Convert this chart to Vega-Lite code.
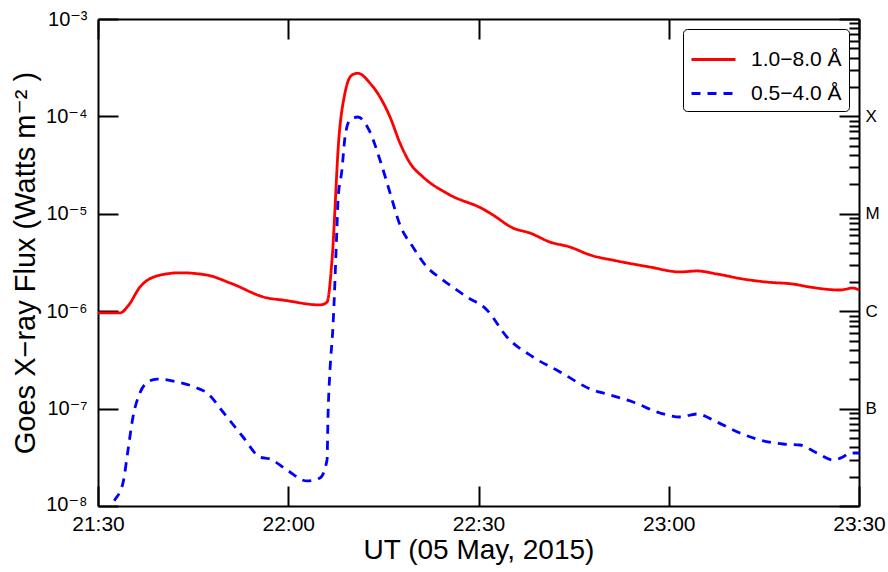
{
  "$schema": "https://vega.github.io/schema/vega-lite/v6.json",
  "autosize": "none",
  "width": 761,
  "height": 487,
  "padding": {"left": 98, "top": 19, "right": 29, "bottom": 66},
  "background": "white",
  "config": {
    "font": "Liberation Sans, DejaVu Sans",
    "view": {"stroke": null},
    "axis": {"grid": false, "domainColor": "black", "domainWidth": 2, "tickColor": "black", "tickWidth": 2, "labelColor": "black", "titleColor": "black", "titleFontWeight": "normal", "labelFlush": false, "labelOverlap": false, "labelBound": false},
    "legend": {"labelFontSize": 21, "labelColor": "black", "symbolSize": 1936, "symbolStrokeWidth": 2.8, "symbolType": "stroke", "labelOffset": 14, "rowPadding": -14, "padding": 7, "strokeColor": "black", "fillColor": "white", "cornerRadius": 4}
  },
  "data": {"values": [
    {"band": "1.0−8.0 Å", "t": "2015-05-05T21:30:00", "flux": 9.6e-7},
    {"band": "1.0−8.0 Å", "t": "2015-05-05T21:33:28", "flux": 9.6e-7},
    {"band": "1.0−8.0 Å", "t": "2015-05-05T21:34:44", "flux": 1.13e-6},
    {"band": "1.0−8.0 Å", "t": "2015-05-05T21:36:37", "flux": 1.77e-6},
    {"band": "1.0−8.0 Å", "t": "2015-05-05T21:39:18", "flux": 2.30e-6},
    {"band": "1.0−8.0 Å", "t": "2015-05-05T21:42:56", "flux": 2.48e-6},
    {"band": "1.0−8.0 Å", "t": "2015-05-05T21:47:11", "flux": 2.35e-6},
    {"band": "1.0−8.0 Å", "t": "2015-05-05T21:50:49", "flux": 1.95e-6},
    {"band": "1.0−8.0 Å", "t": "2015-05-05T21:56:39", "flux": 1.37e-6},
    {"band": "1.0−8.0 Å", "t": "2015-05-05T21:59:10", "flux": 1.30e-6},
    {"band": "1.0−8.0 Å", "t": "2015-05-05T22:05:00", "flux": 1.16e-6},
    {"band": "1.0−8.0 Å", "t": "2015-05-05T22:06:07", "flux": 1.24e-6},
    {"band": "1.0−8.0 Å", "t": "2015-05-05T22:06:54", "flux": 3.35e-6},
    {"band": "1.0−8.0 Å", "t": "2015-05-05T22:08:00", "flux": 6.14e-5},
    {"band": "1.0−8.0 Å", "t": "2015-05-05T22:08:57", "flux": 1.74e-4},
    {"band": "1.0−8.0 Å", "t": "2015-05-05T22:10:03", "flux": 2.66e-4},
    {"band": "1.0−8.0 Å", "t": "2015-05-05T22:11:00", "flux": 2.77e-4},
    {"band": "1.0−8.0 Å", "t": "2015-05-05T22:12:53", "flux": 2.20e-4},
    {"band": "1.0−8.0 Å", "t": "2015-05-05T22:14:28", "flux": 1.58e-4},
    {"band": "1.0−8.0 Å", "t": "2015-05-05T22:16:03", "flux": 9.86e-5},
    {"band": "1.0−8.0 Å", "t": "2015-05-05T22:17:37", "flux": 5.33e-5},
    {"band": "1.0−8.0 Å", "t": "2015-05-05T22:19:12", "flux": 3.32e-5},
    {"band": "1.0−8.0 Å", "t": "2015-05-05T22:21:15", "flux": 2.39e-5},
    {"band": "1.0−8.0 Å", "t": "2015-05-05T22:25:30", "flux": 1.56e-5},
    {"band": "1.0−8.0 Å", "t": "2015-05-05T22:30:42", "flux": 1.12e-5},
    {"band": "1.0−8.0 Å", "t": "2015-05-05T22:32:17", "flux": 9.72e-6},
    {"band": "1.0−8.0 Å", "t": "2015-05-05T22:35:26", "flux": 7.15e-6},
    {"band": "1.0−8.0 Å", "t": "2015-05-05T22:38:07", "flux": 6.35e-6},
    {"band": "1.0−8.0 Å", "t": "2015-05-05T22:41:16", "flux": 5.13e-6},
    {"band": "1.0−8.0 Å", "t": "2015-05-05T22:44:25", "flux": 4.56e-6},
    {"band": "1.0−8.0 Å", "t": "2015-05-05T22:47:35", "flux": 3.78e-6},
    {"band": "1.0−8.0 Å", "t": "2015-05-05T22:51:50", "flux": 3.28e-6},
    {"band": "1.0−8.0 Å", "t": "2015-05-05T22:57:02", "flux": 2.84e-6},
    {"band": "1.0−8.0 Å", "t": "2015-05-05T23:01:46", "flux": 2.53e-6},
    {"band": "1.0−8.0 Å", "t": "2015-05-05T23:04:27", "flux": 2.59e-6},
    {"band": "1.0−8.0 Å", "t": "2015-05-05T23:07:36", "flux": 2.41e-6},
    {"band": "1.0−8.0 Å", "t": "2015-05-05T23:11:42", "flux": 2.14e-6},
    {"band": "1.0−8.0 Å", "t": "2015-05-05T23:15:29", "flux": 1.99e-6},
    {"band": "1.0−8.0 Å", "t": "2015-05-05T23:19:35", "flux": 1.90e-6},
    {"band": "1.0−8.0 Å", "t": "2015-05-05T23:22:16", "flux": 1.77e-6},
    {"band": "1.0−8.0 Å", "t": "2015-05-05T23:27:00", "flux": 1.65e-6},
    {"band": "1.0−8.0 Å", "t": "2015-05-05T23:29:03", "flux": 1.73e-6},
    {"band": "1.0−8.0 Å", "t": "2015-05-05T23:30:00", "flux": 1.65e-6},
    {"band": "0.5−4.0 Å", "t": "2015-05-05T21:31:30", "flux": 8.0e-9},
    {"band": "0.5−4.0 Å", "t": "2015-05-05T21:32:22", "flux": 1.07e-8},
    {"band": "0.5−4.0 Å", "t": "2015-05-05T21:33:56", "flux": 1.72e-8},
    {"band": "0.5−4.0 Å", "t": "2015-05-05T21:34:44", "flux": 3.76e-8},
    {"band": "0.5−4.0 Å", "t": "2015-05-05T21:35:31", "flux": 8.20e-8},
    {"band": "0.5−4.0 Å", "t": "2015-05-05T21:36:37", "flux": 1.45e-7},
    {"band": "0.5−4.0 Å", "t": "2015-05-05T21:37:53", "flux": 1.88e-7},
    {"band": "0.5−4.0 Å", "t": "2015-05-05T21:39:18", "flux": 2.01e-7},
    {"band": "0.5−4.0 Å", "t": "2015-05-05T21:42:27", "flux": 1.88e-7},
    {"band": "0.5−4.0 Å", "t": "2015-05-05T21:45:37", "flux": 1.63e-7},
    {"band": "0.5−4.0 Å", "t": "2015-05-05T21:47:11", "flux": 1.45e-7},
    {"band": "0.5−4.0 Å", "t": "2015-05-05T21:49:43", "flux": 9.23e-8},
    {"band": "0.5−4.0 Å", "t": "2015-05-05T21:52:52", "flux": 5.11e-8},
    {"band": "0.5−4.0 Å", "t": "2015-05-05T21:55:33", "flux": 3.18e-8},
    {"band": "0.5−4.0 Å", "t": "2015-05-05T21:57:07", "flux": 3.04e-8},
    {"band": "0.5−4.0 Å", "t": "2015-05-05T21:59:48", "flux": 2.34e-8},
    {"band": "0.5−4.0 Å", "t": "2015-05-05T22:02:57", "flux": 1.81e-8},
    {"band": "0.5−4.0 Å", "t": "2015-05-05T22:05:00", "flux": 1.94e-8},
    {"band": "0.5−4.0 Å", "t": "2015-05-05T22:06:07", "flux": 2.97e-8},
    {"band": "0.5−4.0 Å", "t": "2015-05-05T22:06:16", "flux": 8.20e-8},
    {"band": "0.5−4.0 Å", "t": "2015-05-05T22:06:35", "flux": 2.49e-7},
    {"band": "0.5−4.0 Å", "t": "2015-05-05T22:07:03", "flux": 6.88e-7},
    {"band": "0.5−4.0 Å", "t": "2015-05-05T22:07:41", "flux": 7.32e-6},
    {"band": "0.5−4.0 Å", "t": "2015-05-05T22:07:51", "flux": 1.39e-5},
    {"band": "0.5−4.0 Å", "t": "2015-05-05T22:08:28", "flux": 2.82e-5},
    {"band": "0.5−4.0 Å", "t": "2015-05-05T22:08:57", "flux": 6.14e-5},
    {"band": "0.5−4.0 Å", "t": "2015-05-05T22:09:44", "flux": 9.19e-5},
    {"band": "0.5−4.0 Å", "t": "2015-05-05T22:11:00", "flux": 9.86e-5},
    {"band": "0.5−4.0 Å", "t": "2015-05-05T22:12:53", "flux": 6.92e-5},
    {"band": "0.5−4.0 Å", "t": "2015-05-05T22:14:28", "flux": 3.57e-5},
    {"band": "0.5−4.0 Å", "t": "2015-05-05T22:16:03", "flux": 1.64e-5},
    {"band": "0.5−4.0 Å", "t": "2015-05-05T22:17:37", "flux": 7.67e-6},
    {"band": "0.5−4.0 Å", "t": "2015-05-05T22:19:40", "flux": 4.56e-6},
    {"band": "0.5−4.0 Å", "t": "2015-05-05T22:21:53", "flux": 2.84e-6},
    {"band": "0.5−4.0 Å", "t": "2015-05-05T22:24:24", "flux": 2.09e-6},
    {"band": "0.5−4.0 Å", "t": "2015-05-05T22:28:11", "flux": 1.40e-6},
    {"band": "0.5−4.0 Å", "t": "2015-05-05T22:31:20", "flux": 1.03e-6},
    {"band": "0.5−4.0 Å", "t": "2015-05-05T22:34:29", "flux": 5.43e-7},
    {"band": "0.5−4.0 Å", "t": "2015-05-05T22:38:35", "flux": 3.39e-7},
    {"band": "0.5−4.0 Å", "t": "2015-05-05T22:42:51", "flux": 2.38e-7},
    {"band": "0.5−4.0 Å", "t": "2015-05-05T22:48:03", "flux": 1.55e-7},
    {"band": "0.5−4.0 Å", "t": "2015-05-05T22:50:16", "flux": 1.41e-7},
    {"band": "0.5−4.0 Å", "t": "2015-05-05T22:54:22", "flux": 1.17e-7},
    {"band": "0.5−4.0 Å", "t": "2015-05-05T22:58:37", "flux": 9.01e-8},
    {"band": "0.5−4.0 Å", "t": "2015-05-05T23:01:46", "flux": 8.20e-8},
    {"band": "0.5−4.0 Å", "t": "2015-05-05T23:04:27", "flux": 8.80e-8},
    {"band": "0.5−4.0 Å", "t": "2015-05-05T23:07:36", "flux": 7.28e-8},
    {"band": "0.5−4.0 Å", "t": "2015-05-05T23:11:14", "flux": 5.62e-8},
    {"band": "0.5−4.0 Å", "t": "2015-05-05T23:14:23", "flux": 4.76e-8},
    {"band": "0.5−4.0 Å", "t": "2015-05-05T23:18:01", "flux": 4.33e-8},
    {"band": "0.5−4.0 Å", "t": "2015-05-05T23:20:41", "flux": 4.23e-8},
    {"band": "0.5−4.0 Å", "t": "2015-05-05T23:23:22", "flux": 3.50e-8},
    {"band": "0.5−4.0 Å", "t": "2015-05-05T23:25:53", "flux": 2.97e-8},
    {"band": "0.5−4.0 Å", "t": "2015-05-05T23:27:28", "flux": 3.18e-8},
    {"band": "0.5−4.0 Å", "t": "2015-05-05T23:28:34", "flux": 3.50e-8},
    {"band": "0.5−4.0 Å", "t": "2015-05-05T23:30:00", "flux": 3.50e-8}
  ]},
  "layer": [
    {
      "mark": {"type": "line", "interpolate": "monotone", "strokeWidth": 2.8, "clip": true},
      "encoding": {
        "x": {"field": "t", "type": "temporal",
          "scale": {"domain": [{"year": 2015, "month": 5, "date": 5, "hours": 21, "minutes": 30}, {"year": 2015, "month": 5, "date": 5, "hours": 23, "minutes": 30}], "nice": false},
          "axis": {"orient": "bottom", "format": "%H:%M", "tickSize": -20, "labelPadding": 27, "labelFontSize": 21,
            "values": [{"year": 2015, "month": 5, "date": 5, "hours": 21, "minutes": 30}, {"year": 2015, "month": 5, "date": 5, "hours": 22, "minutes": 0}, {"year": 2015, "month": 5, "date": 5, "hours": 22, "minutes": 30}, {"year": 2015, "month": 5, "date": 5, "hours": 23, "minutes": 0}, {"year": 2015, "month": 5, "date": 5, "hours": 23, "minutes": 30}],
            "title": "UT (05 May, 2015)", "titleFontSize": 28, "titlePadding": 2}},
        "y": {"field": "flux", "type": "quantitative",
          "scale": {"type": "log", "domain": [1e-8, 1e-3], "nice": false},
          "axis": {"orient": "left", "values": [1e-8, 1e-7, 1e-6, 1e-5, 1e-4, 1e-3], "tickSize": -20, "labelPadding": 31, "labelFontSize": 20,
            "labelOffset": {"condition": {"test": "datum.value < 5e-8", "value": -2}, "value": 0},
            "labelExpr": "datum.value < 5e-8 ? '10⁻⁸' : datum.value < 5e-7 ? '10⁻⁷' : datum.value < 5e-6 ? '10⁻⁶' : datum.value < 5e-5 ? '10⁻⁵' : datum.value < 5e-4 ? '10⁻⁴' : '10⁻³'",
            "title": "Goes X−ray Flux (Watts m⁻² )", "titleFontSize": 29, "titlePadding": 5}},
        "color": {"field": "band", "type": "nominal", "scale": {"domain": ["1.0−8.0 Å", "0.5−4.0 Å"], "range": ["#ff0000", "#0000ff"]},
          "legend": {"title": null, "orient": "none", "legendX": 585, "legendY": 10}},
        "strokeDash": {"field": "band", "type": "nominal", "scale": {"domain": ["1.0−8.0 Å", "0.5−4.0 Å"], "range": [[1, 0], [9, 7]]},
          "legend": {"title": null, "orient": "none", "legendX": 585, "legendY": 10}}
      }
    },
    {
      "mark": {"type": "line", "opacity": 0},
      "encoding": {
        "x": {"field": "t", "type": "temporal",
          "scale": {"domain": [{"year": 2015, "month": 5, "date": 5, "hours": 21, "minutes": 30}, {"year": 2015, "month": 5, "date": 5, "hours": 23, "minutes": 30}], "nice": false},
          "axis": {"orient": "top", "tickSize": -20, "labels": false, "title": null,
            "values": [{"year": 2015, "month": 5, "date": 5, "hours": 21, "minutes": 30}, {"year": 2015, "month": 5, "date": 5, "hours": 22, "minutes": 0}, {"year": 2015, "month": 5, "date": 5, "hours": 22, "minutes": 30}, {"year": 2015, "month": 5, "date": 5, "hours": 23, "minutes": 0}, {"year": 2015, "month": 5, "date": 5, "hours": 23, "minutes": 30}]}},
        "y": {"field": "flux", "type": "quantitative",
          "scale": {"type": "log", "domain": [1e-8, 1e-3], "nice": false},
          "axis": {"orient": "right", "values": [1e-8, 1e-7, 1e-6, 1e-5, 1e-4, 1e-3], "tickSize": -20, "labelPadding": 26, "labelFontSize": 17, "title": null,
            "labelExpr": "datum.value > 5e-5 && datum.value < 5e-4 ? 'X' : datum.value > 5e-6 && datum.value < 5e-5 ? 'M' : datum.value > 5e-7 && datum.value < 5e-6 ? 'C' : datum.value > 5e-8 && datum.value < 5e-7 ? 'B' : ''"}},
        "detail": {"field": "band"}
      }
    },
    {
      "mark": {"type": "line", "opacity": 0},
      "encoding": {
        "x": {"field": "t", "type": "temporal",
          "scale": {"domain": [{"year": 2015, "month": 5, "date": 5, "hours": 21, "minutes": 30}, {"year": 2015, "month": 5, "date": 5, "hours": 23, "minutes": 30}], "nice": false},
          "axis": null},
        "y": {"field": "flux", "type": "quantitative",
          "scale": {"type": "log", "domain": [1e-8, 1e-3], "nice": false},
          "axis": {"orient": "right", "domain": false, "labels": false, "title": null, "tickSize": -10,
            "values": [2e-8, 3e-8, 4e-8, 5e-8, 6e-8, 7e-8, 8e-8, 9e-8, 2e-7, 3e-7, 4e-7, 5e-7, 6e-7, 7e-7, 8e-7, 9e-7, 2e-6, 3e-6, 4e-6, 5e-6, 6e-6, 7e-6, 8e-6, 9e-6, 2e-5, 3e-5, 4e-5, 5e-5, 6e-5, 7e-5, 8e-5, 9e-5, 2e-4, 3e-4, 4e-4, 5e-4, 6e-4, 7e-4, 8e-4, 9e-4]}},
        "detail": {"field": "band"}
      }
    }
  ],
  "resolve": {"axis": {"x": "independent", "y": "independent"}}
}
